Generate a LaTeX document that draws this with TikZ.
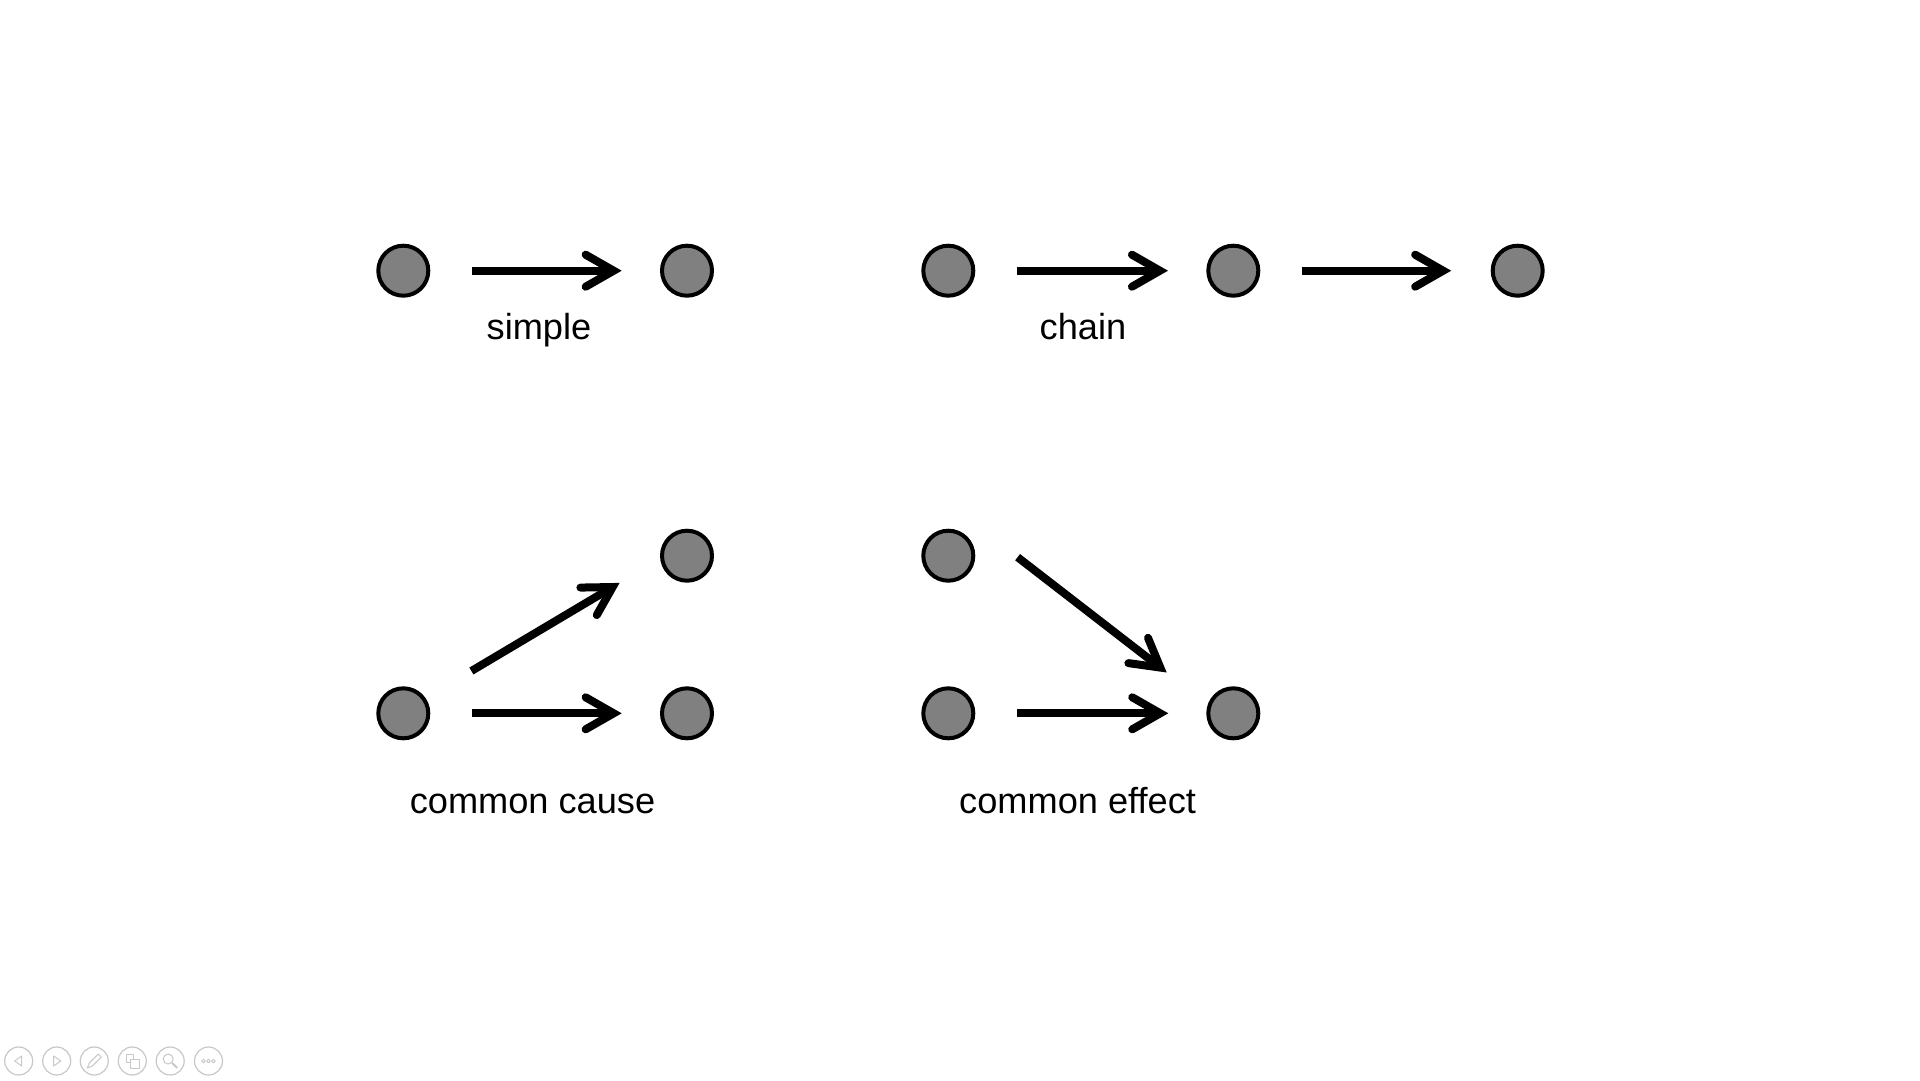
\documentclass[tikz,border=0pt]{standalone}
\usepackage{fontspec}
\setmainfont{Liberation Sans}
\usetikzlibrary{arrows.meta,calc}
\definecolor{dotgray}{HTML}{808080}
\definecolor{icogray}{HTML}{C8C8C8}
\begin{document}
\begin{tikzpicture}[x=1pt,y=-1pt,
  gdot/.style={circle,draw=black,fill=dotgray,line width=4pt,minimum size=50pt,inner sep=0pt},
  arr/.style={line width=8pt,-{Straight Barb[length=28pt,width=32pt,line cap=round,line join=miter]}},
  lbl/.style={font=\fontsize{36.2}{43}\selectfont,anchor=base,inner sep=0pt},
  ico/.style={circle,draw=icogray,line width=1.2pt,minimum size=28pt,inner sep=0pt},
  glyph/.style={draw=icogray,line width=1pt,line join=round}]
\useasboundingbox[fill=white] (0,0) rectangle (1920,1080);

% simple
\node[gdot] (s1) at (403.3,270.7) {};
\node[gdot] (s2) at (687,270.7) {};
\draw[arr] ($(s1)+(68.4,0)$) -- ($(s2)+(-65.3,0)$);
\node[lbl] (ls) at (539,339.5) {simple};

% chain
\node[gdot] (c1) at (948.3,270.7) {};
\node[gdot] (c2) at (1233.3,270.7) {};
\node[gdot] (c3) at (1517.7,270.7) {};
\draw[arr] ($(c1)+(68.4,0)$) -- ($(c2)+(-65.3,0)$);
\draw[arr] ($(c2)+(68.4,0)$) -- ($(c3)+(-66.5,0)$);
\node[lbl] (lc) at (1083,339.5) {chain};

% common cause
\node[gdot] (k1) at (403.3,713.3) {};
\node[gdot] (k2) at (687,555.7) {};
\node[gdot] (k3) at (687,713.3) {};
\draw[arr] ($(k1)+(68.1,-42.3)$) -- ($(k2)+(-67.4,27.2)$);
\draw[arr] ($(k1)+(68.4,0)$) -- ($(k3)+(-65.3,0)$);
\node[lbl] (lk) at (532.5,813) {common cause};

% common effect
\node[gdot] (e1) at (948.3,555.7) {};
\node[gdot] (e2) at (948.3,713.3) {};
\node[gdot] (e3) at (1233.3,713.3) {};
\draw[arr] ($(e1)+(69.3,1.5)$) -- ($(e3)+(-66.6,-40.8)$);
\draw[arr] ($(e2)+(69,0)$) -- ($(e3)+(-65,0)$);
\node[lbl] (le) at (1077.6,813) {common effect};

% slide show controls
\node[ico] (i1) at (18.7,1061) {};
\node[ico] (i2) at (56.7,1061) {};
\node[ico] (i3) at (94.3,1061) {};
\node[ico] (i4) at (132.3,1061) {};
\node[ico] (i5) at (170.2,1061) {};
\node[ico] (i6) at (208.5,1061) {};
\draw[glyph] ($(i1)+(-4,0)$) -- ($(i1)+(3,-5)$) -- ($(i1)+(3,5)$) -- cycle;
\draw[glyph] ($(i2)+(4,0)$) -- ($(i2)+(-3,-5)$) -- ($(i2)+(-3,5)$) -- cycle;
\draw[glyph] ($(i3)+(-7,7)$) -- ($(i3)+(-5,2)$) -- ($(i3)+(4,-7)$) -- ($(i3)+(7,-4)$) -- ($(i3)+(-2,5)$) -- cycle;
\draw[glyph] ($(i4)+(-6,-7)$) rectangle ($(i4)+(1,1)$);
\draw[glyph,fill=white] ($(i4)+(-2,-2)$) rectangle ($(i4)+(7,7)$);
\draw[glyph] ($(i5)+(-2,-2)$) circle[radius=5];
\draw[glyph,line width=2pt] ($(i5)+(2,2)$) -- ($(i5)+(7,7)$);
\draw[glyph] ($(i6)+(-5,0)$) circle[radius=1.8];
\draw[glyph] ($(i6)+(0,0)$) circle[radius=1.8];
\draw[glyph] ($(i6)+(5,0)$) circle[radius=1.8];
\end{tikzpicture}
\end{document}
